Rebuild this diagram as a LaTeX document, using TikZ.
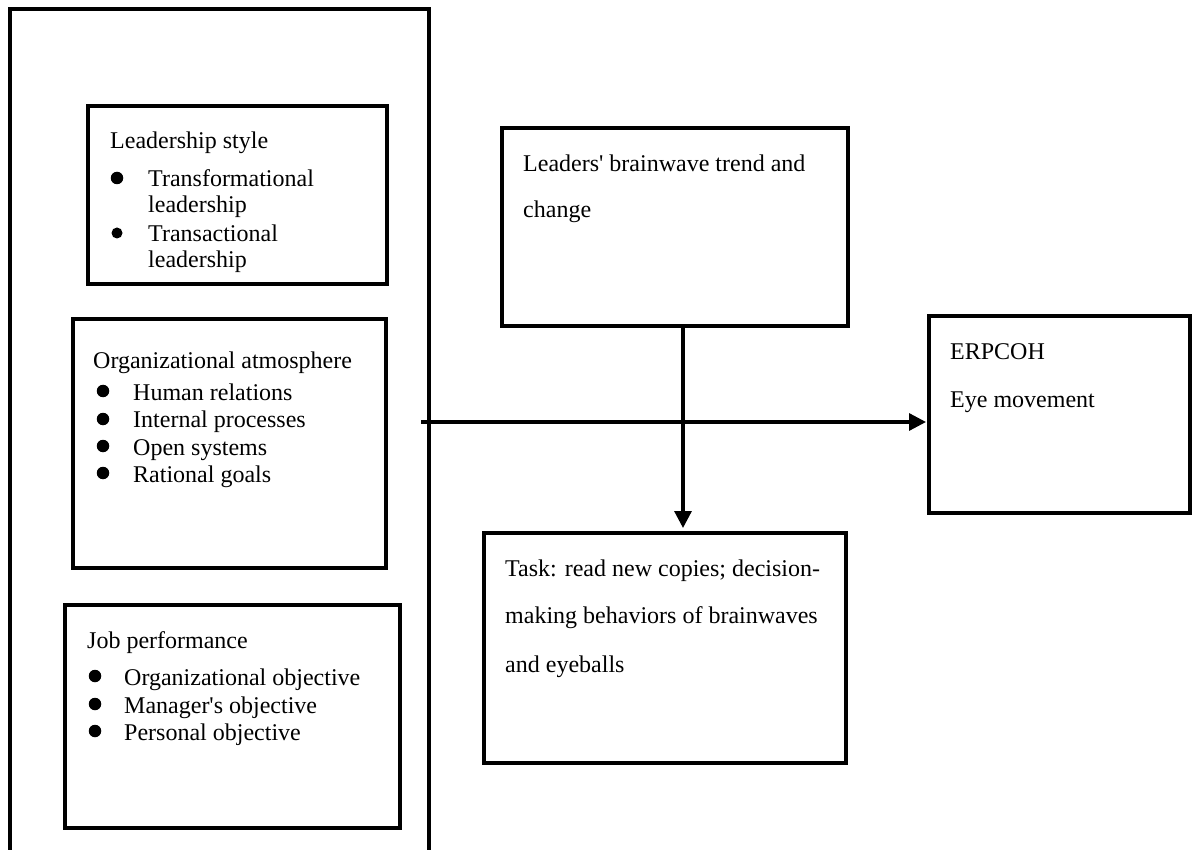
\documentclass[tikz,border=0pt]{standalone}
\usepackage{fontspec}
\setmainfont{Liberation Serif}
\usetikzlibrary{arrows.meta}
\begin{document}
\begin{tikzpicture}[x=1pt,y=-1pt,
  box/.style={draw, line width=3.2pt, inner sep=0pt, outer sep=0pt, anchor=north west},
  txt/.style={anchor=base west, inner sep=0pt, font=\fontsize{24}{27.6}\selectfont},
  bul/.style={circle, fill=black, inner sep=0pt, minimum size=12.5pt},
  conn/.style={line width=3.2pt, -{Triangle[length=17pt,width=17pt]}},
  frame/.style={line width=3.2pt}]
\useasboundingbox (0,0) rectangle (1192,850);
% outer open frame
\coordinate (fbl) at (10,850);
\coordinate (ftl) at (10,9);
\coordinate (ftr) at (429,9);
\coordinate (fbr) at (429,850);
\draw[frame] (fbl) -- (ftl) -- (ftr) -- (fbr);
% boxes
\node[box, minimum width=299pt, minimum height=178pt] (lead) at (88,106) {};
\node[box, minimum width=313pt, minimum height=249pt] (org) at (73,319) {};
\node[box, minimum width=335pt, minimum height=223pt] (job) at (65,605) {};
\node[box, minimum width=346pt, minimum height=198pt] (leaders) at (502,128) {};
\node[box, minimum width=261pt, minimum height=197pt] (erp) at (929,316) {};
\node[box, minimum width=362pt, minimum height=230pt] (task) at (484,533) {};
% leadership style
\node[txt] (leadh) at (110,149) {Leadership style};
\node[bul] (leadb1) at (117,178) {};
\node[txt] (leadi1) at (148,187) {Transformational};
\node[txt] (leadi1b) at (148,213) {leadership};
\node[bul, minimum size=11pt] (leadb2) at (117,233) {};
\node[txt] (leadi2) at (148,242) {Transactional};
\node[txt] (leadi2b) at (148,268) {leadership};
% organizational atmosphere
\node[txt] (orgh) at (93,369) {Organizational atmosphere};
\node[bul] (orgb1) at (103,391) {};
\node[txt] (orgi1) at (133,400) {Human relations};
\node[bul] (orgb2) at (103,419) {};
\node[txt] (orgi2) at (133,428) {Internal processes};
\node[bul] (orgb3) at (103,446) {};
\node[txt] (orgi3) at (133,455) {Open systems};
\node[bul] (orgb4) at (103,473) {};
\node[txt] (orgi4) at (133,482) {Rational goals};
% job performance
\node[txt] (jobh) at (87,648) {Job performance};
\node[bul] (jobb1) at (95,676) {};
\node[txt] (jobi1) at (124,685) {Organizational objective};
\node[bul] (jobb2) at (95,704) {};
\node[txt] (jobi2) at (124,713) {Manager\textquotesingle s objective};
\node[bul] (jobb3) at (95,731) {};
\node[txt] (jobi3) at (124,740) {Personal objective};
% leaders' brainwave
\node[txt] (leadersl1) at (523,172) {Leaders\textquotesingle{} brainwave trend and};
\node[txt] (leadersl2) at (523,218) {change};
% ERPCOH
\node[txt] (erpl1) at (950,360) {ERPCOH};
\node[txt] (erpl2) at (950,407) {Eye movement};
% task
\node[txt] (taskl1) at (505,576) {Task: read new copies; decision-};
\node[txt] (taskl2) at (505,623) {making behaviors of brainwaves};
\node[txt] (taskl3) at (505,672) {and eyeballs};
% connectors
\coordinate (hs) at (421,422);
\draw[conn, shorten >=3pt] (hs) -- (erp.west |- hs);
\coordinate (vs) at (683,326);
\draw[conn, shorten >=5pt] (vs) -- (task.north -| vs);
\end{tikzpicture}
\end{document}
